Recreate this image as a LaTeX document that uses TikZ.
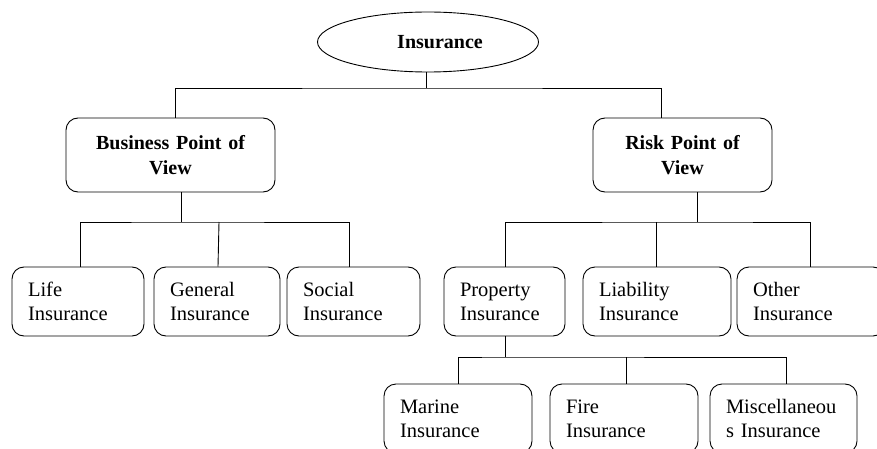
\documentclass[tikz,border=0pt]{standalone}
\usepackage{fontspec}
\setmainfont{Liberation Serif}
\usetikzlibrary{shapes.geometric}
\begin{document}
\begin{tikzpicture}[x=1pt,y=-1pt,line width=0.9pt,
  box/.style={draw,rounded corners=12pt,minimum height=69pt,inner xsep=16pt,inner ysep=2pt,
    align=left,font=\fontsize{20.5}{24}\selectfont},
  topbox/.style={draw,rounded corners=12pt,minimum height=74pt,inner xsep=4pt,
    align=center,font=\fontsize{20}{25}\selectfont\bfseries},
  link/.style={line width=0.9pt}]
\useasboundingbox (0,0) rectangle (877,449);
\node[draw,ellipse,minimum width=221pt,minimum height=60pt,inner sep=0pt,
  font=\fontsize{20}{24}\selectfont\bfseries] (ins) at (428,42) {\hspace*{24pt}Insurance};
\node[topbox,minimum width=209pt,text width=201pt] (bus) at (170.5,155) {Business Point of\\View};
\node[topbox,minimum width=179pt,text width=171pt] (risk) at (682.5,155) {Risk Point of\\View};
\node[box,minimum width=132pt,text width=100pt] (life) at (78,301.5) {Life\\Insurance};
\node[box,minimum width=126pt,text width=94pt] (gen) at (217,301.5) {General\\Insurance};
\node[box,minimum width=133pt,text width=101pt] (soc) at (353.5,301.5) {Social\\Insurance};
\node[box,minimum width=121pt,text width=89pt] (prop) at (504.5,301.5) {Property\\Insurance};
\node[box,minimum width=148pt,text width=116pt] (liab) at (657,301.5) {Liability\\Insurance};
\node[box,minimum width=148pt,text width=116pt] (oth) at (811,301.5) {Other\\Insurance};
\node[box,minimum width=148pt,text width=116pt] (mar) at (458,418.5) {Marine\\Insurance};
\node[box,minimum width=148pt,text width=116pt] (fire) at (624,418.5) {Fire\\Insurance};
\node[box,minimum width=147pt,text width=115pt] (misc) at (783.5,418.5) {Miscellaneou\\s Insurance};
\coordinate (j1) at (426,88);
\coordinate (j2) at (181,222);
\coordinate (j3) at (697,222);
\coordinate (j4) at (505,357);
\draw[link] ([xshift=-2pt]ins.south) -- (j1);
\draw[link] ([xshift=4.5pt]bus.north) |- (j1) -| ([xshift=-21.5pt]risk.north);
\draw[link] ([xshift=10.5pt]bus.south) -- (j2);
\draw[link] ([xshift=2pt]life.north) |- (j2) -| ([xshift=-4.5pt]soc.north);
\draw[link] ([xshift=1pt]gen.north) -- ([xshift=2pt]gen.north |- j2);
\draw[link] ([xshift=14.5pt]risk.south) -- (j3);
\draw[link] ([xshift=0.5pt]prop.north) |- (j3) -| ([xshift=-1pt]oth.north);
\draw[link] ([xshift=-1pt]liab.north) -- ([xshift=-1pt]liab.north |- j3);
\draw[link] ([xshift=0.5pt]prop.south) -- (j4);
\draw[link] (mar.north) |- (j4) -| ([xshift=2.5pt]misc.north);
\draw[link] ([xshift=2pt]fire.north) -- ([xshift=2pt]fire.north |- j4);
\end{tikzpicture}
\end{document}
